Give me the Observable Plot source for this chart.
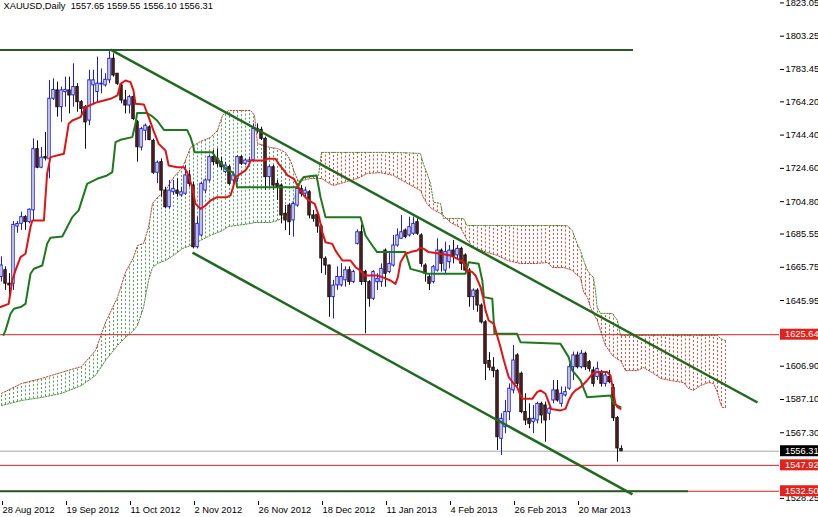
<!DOCTYPE html>
<html><head><meta charset="utf-8">
<script src="https://cdn.jsdelivr.net/npm/d3@7"></script>
<script src="https://cdn.jsdelivr.net/npm/@observablehq/plot@0.6"></script>
<style>
html,body{margin:0;padding:0;background:#fff;}
#chart{position:relative;width:818px;height:517px;overflow:hidden;}
#chart svg text{white-space:pre;}
</style></head><body>
<div id="chart"></div>
<script>
// ---- Header ----
const symbolText = "XAUUSD,Daily";
const lastOHLC = [1557.65, 1559.55, 1556.10, 1556.31];

// ---- Daily candles (bar index 0 = 28 Aug 2012) ----
const opens = [1660,1664,1656,1656,1690,1691.6,1695.6,1692.6,1699.6,1736,
1725,1731.3,1730,1766,1771,1761,1770,1771,1768,1773,
1764,1761,1753,1774,1770,1774.5,1774,1777,1789.8,1780.9,
1773.9,1765,1762,1767,1752,1737,1747,1749,1741,1722,
1728.3,1711.4,1701.5,1710.4,1711.4,1708.5,1709.5,1720.4,1714.4,1677.7,
1684.7,1711.4,1717.4,1731.3,1730.3,1728.3,1722.4,1725.3,1717.4,1718.4,
1731.3,1727.3,1728.3,1729.3,1748.1,1747.5,1742.2,1719.4,1725.3,1715.4,
1714.4,1697.6,1702.5,1693.6,1702.5,1712.4,1709.5,1710.4,1696.6,1697,
1690,1670.8,1666.8,1648,1655,1655,1658,1664,1657,1679.7,
1686.6,1663,1656.9,1647,1656.9,1656.9,1675.7,1662.9,1666.8,1678.7,
1682.7,1687.6,1684.7,1685.7,1692.6,1684.7,1666.8,1659.9,1656.9,1663.8,
1675.7,1663.8,1668.8,1675.7,1672.8,1676.7,1672.8,1663.8,1648,1651.9,
1643,1633,1610,1606,1604,1563.7,1570.6,1579.6,1592.5,1613.3,
1602.4,1579.6,1575.6,1573.6,1574.6,1584.5,1583.5,1578.6,1586.5,1592.5,
1584.5,1589.5,1593.5,1606.3,1613.3,1606.3,1614.3,1609.3,1604.4,1600.4,
1603.4,1596.4,1600.4,1594,1576,1557.65];
const highs = [1672,1666,1662,1693,1693,1698.6,1696.5,1700.5,1742.2,1741,
1737,1746,1776.9,1777.9,1775.9,1773,1778.9,1778.9,1786.8,1775,
1765,1762,1783,1783,1790.8,1783.8,1780.9,1794.7,1792.8,1781,
1775,1771,1768,1769,1753,1749,1751,1750,1742,1729,
1730.3,1713.4,1717.4,1717.4,1718.4,1713.4,1726.3,1723.4,1716.4,1695.6,
1716.4,1718.4,1732.3,1735.3,1736.2,1731.3,1728.3,1726.3,1722.4,1732.3,
1732.3,1730.3,1731.3,1751.1,1751.1,1749.1,1743.2,1726.3,1726.3,1717.4,
1715.4,1702.5,1703.5,1704.5,1714.4,1714.4,1713.4,1711.4,1699.6,1699,
1691,1672,1667,1658,1666,1668,1666,1666,1664,1688,
1691,1664,1657.9,1663.8,1661.9,1667.8,1676.7,1674.8,1684.7,1688.6,
1696.6,1688.6,1695.6,1695.6,1694.6,1685.7,1667.8,1661.9,1666.8,1682.7,
1676.7,1680.7,1678.7,1681.7,1678.7,1677.7,1673.8,1665,1652.9,1653,
1644,1634,1615,1612,1605,1578.6,1586.5,1596.4,1619.2,1614.3,
1603.4,1590.5,1584.5,1583.5,1585.5,1585.5,1585.5,1582.6,1598.4,1598.4,
1594.5,1594.5,1608.3,1615.3,1615.3,1616.3,1615.3,1610.3,1606.3,1609.3,
1604.4,1603.4,1604.4,1596,1577,1559.55];
const lows = [1657,1652,1648,1652,1686,1687.7,1687.7,1691.6,1693.6,1724.4,
1724.4,1729,1718.4,1765,1755.1,1752,1761,1757,1761,1758,
1755,1736,1750,1763,1764,1769,1773,1775,1778.9,1774,
1763,1757,1757,1753,1728.3,1735,1741,1741,1721,1715.5,
1707.5,1700.5,1700.5,1708.5,1707.5,1707.5,1708.5,1713.4,1676.7,1676.7,
1683.7,1709.5,1716.4,1726.3,1725.3,1723.4,1721.4,1714.4,1713.4,1716.4,
1726.3,1726.3,1727.3,1728.3,1745.1,1741.2,1711.4,1713.4,1711.4,1705.5,
1691.6,1687.6,1684.7,1683.7,1701.5,1707.5,1707.5,1694.6,1692.6,1686,
1662,1661,1636,1635,1652,1654,1654,1655,1656,1679,
1655,1626.2,1642,1646,1651.9,1653.9,1653.9,1661.9,1665.8,1677.7,
1682.7,1682.7,1683.7,1684.7,1684.7,1665.8,1656.9,1651.9,1655.9,1662.9,
1662.9,1661.9,1664.8,1667.8,1670.8,1663.8,1661.9,1642,1640,1639,
1632,1598.4,1604,1600,1556.8,1553.8,1566.7,1574.6,1590.5,1594.5,
1578.6,1571.6,1569.7,1566.7,1572.6,1572.6,1561.7,1574.6,1584.5,1585.5,
1582.5,1588.5,1592.5,1598.4,1605.3,1605.3,1604.4,1603.4,1594.5,1598.4,
1594.5,1594.5,1596.4,1574,1549.8,1556.10];
const closes = [1666.8,1656,1655,1691,1691.5,1695.6,1692.6,1700,1736,1725,
1731,1730.5,1766,1771.3,1761,1771,1771.3,1768,1773,1764,
1760,1752,1777,1777,1775,1775,1777.3,1789.8,1779.9,1774.9,
1765,1762,1767,1754,1737.2,1748,1750,1741.5,1722,1728,
1711.4,1701.5,1711.4,1712.4,1709.5,1710.4,1720.4,1715.4,1677.7,1691.6,
1715.4,1717.4,1731.3,1728.3,1727.3,1725.3,1726.3,1715.4,1720.4,1731.3,
1727.3,1729.3,1729.3,1748.1,1747.1,1742.2,1719.4,1725.3,1714.4,1713.4,
1696.6,1693.6,1692.6,1703.5,1712.4,1709.5,1711.4,1696.6,1694.6,1690,
1671,1666.8,1648,1654.9,1660,1660,1664,1657,1663,1686.6,
1657,1657,1647,1662.9,1658.9,1664.8,1661.9,1667.8,1678.7,1684.7,
1686.6,1683.7,1689.6,1691.6,1685.7,1667.8,1661.9,1655.9,1665.8,1675.7,
1667.8,1674.8,1675.7,1671.8,1676.7,1667.8,1663.8,1648,1651.9,1643,
1633,1608.3,1606,1604,1564.7,1575.6,1579.6,1593.5,1610.3,1596.4,
1579.6,1574.6,1572.6,1575.6,1584.5,1577.6,1574.6,1581.6,1592.5,1586.5,
1590.5,1591.5,1606.3,1613.3,1606.3,1614.3,1606.3,1605.3,1596.4,1605.3,
1596.4,1601.4,1597.4,1576,1558,1556.31];

// ---- Ichimoku: Tenkan-sen (red) and Kijun-sen (green), read as [bar, price] vertices ----
const tenkanPts = [[-0.25,1642.1],[1.8,1644.0],[2.7,1657.9],[3.5,1663.9],[4.75,1671.8],[6,1673.8],[7.25,1689.7],[7.7,1693.6],[10.6,1693.6],[11.4,1721.4],[12.25,1731.3],[15.6,1733.3],[16.8,1751.1],[17.7,1753.1],[19.75,1755.1],[21,1761.0],[23.9,1764.0],[27.25,1766.0],[29,1768.0],[29.75,1774.9],[31,1776.9],[32.25,1775.9],[33,1770.9],[33.5,1763.0],[35.6,1762.6],[36.8,1755.1],[38,1747.1],[39.3,1739.2],
[41,1735.2],[41.8,1726.3],[43.9,1725.3],[45.6,1725.3],[46.4,1722.4],[47.7,1713.4],[48.5,1703.5],[49.75,1700.5],[51,1702.5],[52.25,1705.5],[53.9,1707.5],[56.4,1707.5],[57.25,1708.5],[57.9,1713.4],[58.5,1719.4],[61,1723.4],[61.8,1726.3],[62.25,1729.3],[65.6,1729.3],[66.5,1730.3],[68.5,1730.3],[69.3,1727.3],[70.6,1723.4],[71.5,1720.4],[73.1,1718.4],[74,1714.4],[74.75,1711.4],[75.6,1708.5],[76.8,1705.5],[78.3,1703.5],
[79.3,1696.6],[80.2,1686.6],[81,1680.7],[82.7,1679.7],[83.5,1675.7],[85.2,1669.8],[87.25,1669.8],[88.5,1665.8],[89.75,1663.8],[90.6,1660.9],[93.9,1660.9],[95.2,1659.9],[97.25,1657.9],[98.5,1655.9],[99.1,1659.9],[99.75,1668.8],[101,1673.8],[102.25,1674.8],[103.9,1675.7],[104.75,1677.3],[105.6,1676.7],[106.8,1674.8],[109.75,1673.8],[112.25,1672.8],[113.5,1671.4],
[114.75,1669.8],[115.6,1668.8],[116.4,1663.8],[117.7,1662.9],[118.5,1660.9],[119.75,1653.9],[120.4,1648.0],[121,1640.1],[121.8,1634.1],[123.1,1632.1],[123.9,1625.2],[124.75,1618.2],[125.6,1610.3],[126.8,1600.4],[128.1,1596.4],[128.9,1594.4],[129.6,1590.5],[130.2,1587.5],[132.7,1587.5],[133.9,1591.5],[134.75,1592.5],[136,1590.5],[136.8,1585.5],[137.4,1581.5],[139.75,1580.6],[141,1581.5],[141.8,1586.5],[142.7,1590.5],[143.5,1592.5],[144.75,1594.4],[146.4,1598.4],[147.7,1602.4],[148.9,1603.4],[151.4,1603.4],[152.25,1601.4],[152.9,1592.5],[153.5,1584.5],[154,1582.5],[154.75,1581.5]];
const kijunPts = [[0.5,1625.5],[1,1628.2],[2.25,1638.1],[3.1,1641.1],[4.75,1642.1],[6,1644.0],[7.25,1661.9],[8.1,1664.9],[10.2,1666.8],[11.4,1679.7],[12.25,1683.3],[15.2,1684.1],[16.4,1689.6],[17.7,1695.6],[19.3,1699.6],[21.4,1715.4],[23.9,1718.4],[26.4,1720.4],[27.7,1722.4],[28.5,1740.2],[29.75,1741.6],[32.7,1743.2],[33.5,1751.1],[33.9,1757.5],[36.4,1757.5],[37.7,1755.5],[38.9,1753.1],[40.6,1747.5],[46.4,1747.5],[47.25,1743.2],[47.9,1738.2],[48.25,1734.2],[52.7,1734.2],[53.5,1731.3],[54.75,1728.3],[56,1724.3],[57.7,1722.4],[58.5,1719.4],[58.9,1713.4],[73.9,1713.4],[74.75,1717.0],[75.6,1719.5],[78.75,1720.4],[79.3,1713.4],[79.75,1707.5],[81,1695.6],[89.75,1695.6],[91,1684.7],[92.7,1678.7],[93.9,1674.8],[101,1674.8],[102.25,1664.8],[105.2,1662.9],[106.4,1661.9],[116,1661.9],[116.8,1668.8],[119.3,1667.8],[120.2,1657.9],[120.6,1648.0],[122.7,1647.0],[123.25,1626.2],[128.9,1626.2],[129.75,1621.2],[139.75,1620.2],[141.8,1612.3],[142.7,1604.4],[144.75,1598.4],[146.4,1588.5],[152.25,1589.5],[153.1,1584.5],[154.75,1582.5]];

// ---- Ichimoku cloud (Senkou span A / B, shifted 26 bars ahead) ----
const cloudBars = [0,5,10,15,20,23.5,26,29,31,33,34,35.5,36.75,37.75,39,41,43,45.25,47.25,49.75,52.25,54,55.25,56.75,62.25,63.25,64,67.25,69,71,72.25,73.25,74.25,75.25,77.25,79.25,80,81.5,83,85.5,89,91.5,94.75,98,101.5,104.75,105.5,106.4,107.25,108,109.75,110.5,112.25,114.75,115.5,116.4,118,121.5,124,126.5,129.75,133.5,136.5,137.75,140.5,141.4,142.7,143.9,144.75,145.5,146.5,147.25,148,148.5,148.9,149.75,151,152.75,154,154.75,156,159,160.5,163,164.75,167.25,170.5,171.75,173,174.75,176.75,178,179,179.75,180.25,181];
const spanA = [1590.7,1596.6,1599.6,1603.2,1606.7,1616.2,1632.9,1647.8,1662.7,1671.6,1678.7,1679.9,1689.4,1703.7,1707.3,1711.4,1719.2,1725.1,1737.0,1740.6,1743.0,1747.1,1756.1,1759.0,1759.0,1756.1,1739.4,1737.0,1736.4,1734.1,1729.3,1722.1,1716.8,1717.4,1718.6,1718.6,1718.6,1716.2,1714.4,1716.2,1718.6,1721.6,1722.1,1720.4,1715.6,1711.4,1707.3,1703.5,1701.3,1700.0,1697.8,1696.5,1692.4,1689.4,1686.0,1682.0,1677.5,1674.5,1672.8,1669.8,1668.0,1668.0,1668.6,1665.6,1665.6,1665.0,1663.9,1661.0,1659.7,1651.1,1647.8,1641.8,1638.0,1636.0,1634.5,1628.1,1619.2,1613.3,1611.0,1610.3,1604.3,1604.3,1606.1,1602.6,1599.6,1598.4,1597.2,1593.6,1592.5,1595.4,1597.2,1596.6,1591.3,1584.7,1582.3,1582.3];
const spanB = [1583.5,1586.5,1588.3,1590.7,1595.4,1601.4,1610.3,1619.2,1624.0,1628.1,1631.1,1641.8,1657.9,1665.6,1668.0,1669.8,1672.8,1676.9,1678.7,1681.7,1684.7,1686.4,1687.6,1690.0,1691.8,1692.4,1692.4,1692.4,1693.6,1696.0,1701.3,1707.3,1713.2,1718.6,1720.4,1720.4,1734.1,1734.1,1734.1,1734.1,1734.1,1734.1,1734.1,1734.1,1733.8,1733.5,1727.0,1721.6,1715.6,1704.5,1703.7,1694.8,1694.8,1694.8,1694.8,1690.6,1690.6,1690.6,1690.6,1690.6,1690.6,1690.6,1690.6,1690.6,1690.6,1690.6,1687.6,1679.9,1675.7,1670.0,1663.8,1661.5,1659.7,1652.0,1642.0,1638.3,1638.3,1638.3,1634.1,1625.2,1625.2,1625.2,1625.2,1625.2,1625.2,1625.2,1625.2,1625.2,1625.2,1625.2,1625.2,1625.2,1625.2,1623.4,1622.8,1622.2];

// ---- Drawn objects ----
const channelLines = [ {b1: 27.25, p1: 1795.3, b2: 189, p2: 1585.3}, {b1: 47.75, p1: 1674.5, b2: 157.75, p2: 1530.6} ];
const greenLevels = [ {price: 1795.0, from: -2, to: 158}, {price: 1532.5, from: -2, to: 171.75} ];
const redLevels = [1625.64, 1547.92, 1532.50];
const bidPrice = 1556.31;

// ---- Axes ----
const yTickValues = [1823.05,1803.25,1783.45,1764.20,1744.40,1724.60,1704.80,1685.55,1665.75,1645.95,1626.15,1606.90,1587.10,1567.30,1547.50,1528.25];
const yTicksHiddenByTags = [1626.15, 1547.50];
const xTickBars = [0,16,32,48,64,80,96,112,128,144];
const xTickLabels = ["28 Aug 2012","19 Sep 2012","11 Oct 2012","2 Nov 2012","26 Nov 2012","18 Dec 2012","11 Jan 2013","4 Feb 2013","26 Feb 2013","20 Mar 2013"];
const priceTagValues = [1625.64, 1556.31, 1547.92, 1532.50];

// ---- build ----
const candles = opens.map((o, i) => ({i, o, h: highs[i], l: lows[i], c: closes[i]}));
const bulls = candles.filter(d => d.c >= d.o);
const bears = candles.filter(d => d.c < d.o);
const cloud = cloudBars.map((b, k) => ({b, a: spanA[k], s: spanB[k]}));
const tenkan = tenkanPts.map(([b, v]) => ({b, v}));
const kijun = kijunPts.map(([b, v]) => ({b, v}));
const titleText = symbolText + "  " + lastOHLC.map(v => v.toFixed(2)).join(" ");

// cloud hatch: one dotted vertical stroke per bar between the read span lines
const spanAAt = d3.scaleLinear().domain(cloudBars).range(spanA).clamp(true);
const spanBAt = d3.scaleLinear().domain(cloudBars).range(spanB).clamp(true);
const hatch = d3.range(0, 182).map(b => ({b, a: spanAAt(b), s: spanBAt(b)}));
const hatchGreen = hatch.filter(d => d.a > d.s);
const hatchRed = hatch.filter(d => d.s > d.a);

const BLUE = "#1e1ecf", BEAR = "#6a1f1f", DARK = "#111";
const FONT = "'Liberation Sans', Arial, sans-serif";

const plot = Plot.plot({
  width: 818, height: 517,
  marginLeft: 0, marginRight: 39, marginTop: 0, marginBottom: 16,
  style: {fontFamily: FONT, fontSize: "9.3px", background: "#fff", color: "#000", overflow: "hidden"},
  x: {domain: [-0.25, 194.5]},
  y: {domain: [1526.4, 1824.49]},
  marks: [
    Plot.ruleX(hatchGreen, {x: "b", y1: "s", y2: "a", stroke: "#5a9e62", strokeWidth: 1, strokeDasharray: "2 2"}),
    Plot.ruleX(hatchRed, {x: "b", y1: "a", y2: "s", stroke: "#d0503c", strokeWidth: 1, strokeDasharray: "2 2"}),
    Plot.line(cloud, {x: "b", y: "a", stroke: "#b5443a", strokeWidth: 1, strokeDasharray: "1.5 1.5"}),
    Plot.line(cloud, {x: "b", y: "s", stroke: "#4b8a3b", strokeWidth: 1, strokeDasharray: "1.5 1.5"}),
    Plot.ruleY(redLevels, {stroke: "#cc1f1f", strokeWidth: 1}),
    Plot.ruleY([bidPrice], {stroke: "#a9a9a9", strokeWidth: 1}),
    // candles
    Plot.ruleX(bears, {x: "i", y1: "l", y2: "h", stroke: DARK, strokeWidth: 1}),
    Plot.ruleX(bulls, {x: "i", y1: "l", y2: "h", stroke: BLUE, strokeWidth: 1}),
    Plot.rect(bears, {x1: d => d.i - 0.3, x2: d => d.i + 0.3, y1: "o", y2: "c", fill: BEAR, stroke: DARK, strokeWidth: 1, inset: 0}),
    Plot.rect(bulls, {x1: d => d.i - 0.3, x2: d => d.i + 0.3, y1: "o", y2: "c", fill: "#fff", stroke: BLUE, strokeWidth: 1, inset: 0}),
    // ichimoku lines
    Plot.line(kijun, {x: "b", y: "v", stroke: "#1c7a1c", strokeWidth: 2, clip: true}),
    Plot.line(tenkan, {x: "b", y: "v", stroke: "#e01414", strokeWidth: 2, clip: true}),
    // drawn objects
    Plot.ruleY(greenLevels, {y: "price", x1: "from", x2: "to", stroke: "#275a27", strokeWidth: 2, clip: true}),
    Plot.link(channelLines, {x1: "b1", y1: "p1", x2: "b2", y2: "p2", stroke: "#1f6a1f", strokeWidth: 2.5}),
    // axes
    Plot.axisY({anchor: "right", ticks: yTickValues, tickFormat: d => yTicksHiddenByTags.includes(d) ? "" : d.toFixed(2), tickSize: 4, tickPadding: 2, line: true, fontSize: 9.3}),
    Plot.axisX({anchor: "bottom", ticks: xTickBars, tickFormat: d => xTickLabels[xTickBars.indexOf(d)], tickSize: 4, tickPadding: 1, textAnchor: "start", dx: 1, line: true, fontSize: 9.3}),
    Plot.text([titleText], {frameAnchor: "top-left", dx: 3, dy: 2, lineAnchor: "top", textAnchor: "start", fontSize: 9.3, fill: "#000"})
  ]
});

// price tags on the right axis, positioned with Plot's y scale
const yScale = plot.scale("y");
const tagColors = ["#e3221c", "#000", "#e3221c", "#e3221c"];
const g = d3.select(plot).append("g").attr("text-anchor", "start");
priceTagValues.forEach((price, k) => {
  const yy = yScale.apply(price);
  g.append("rect").attr("x", 780).attr("y", yy - 5.5).attr("width", 40).attr("height", 11).attr("fill", tagColors[k]);
  g.append("text").attr("x", 785).attr("y", yy).attr("dy", "0.35em").attr("fill", "#fff")
   .attr("text-anchor", "start").attr("font-family", FONT).attr("font-size", 9.3).text(price.toFixed(2));
});

document.getElementById("chart").appendChild(plot);
</script></body></html>
